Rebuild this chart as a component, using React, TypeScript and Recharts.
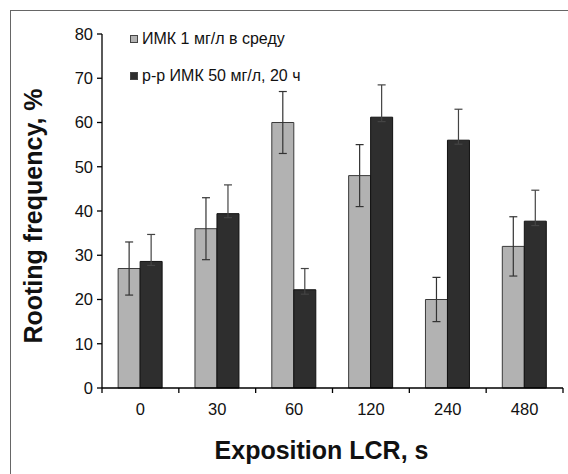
import React from 'react';
import {
  BarChart, Bar, XAxis, YAxis, ErrorBar, Legend,
} from 'recharts';

const categories = ['0', '30', '60', '120', '240', '480'];
const seriesNames = ['ИМК 1 мг/л в среду', 'р-р ИМК 50 мг/л, 20 ч'];
const grayValues = [27, 36, 60, 48, 20, 32];
const grayErrors = [6, 7, 7, 7, 5, 6.7];
const darkValues = [28.6, 39.4, 22.2, 61.2, 56, 37.7];
const darkErrLow = [0.9, 0.9, 1, 1, 0.9, 1];
const darkErrHigh = [6.1, 6.5, 4.8, 7.3, 7, 7];
const yTicks = [0, 10, 20, 30, 40, 50, 60, 70, 80];

const data = categories.map((c, i) => ({
  name: c,
  gray: grayValues[i],
  grayErr: grayErrors[i],
  dark: darkValues[i],
  darkErr: [darkErrLow[i], darkErrHigh[i]],
}));

const FONT = 'Arial, "Liberation Sans", sans-serif';

// Excel-style x tick: label at the centre, tick marks at category edges
const EdgeTick = (props: any) => {
  const { x, y, payload, index, visibleTicksCount } = props;
  const half = payload.offset || 0;
  const last = index === visibleTicksCount - 1;
  return (
    <g>
      <line x1={x - half} x2={x - half} y1={y} y2={y + 5} stroke="#000" strokeWidth={1.3} />
      {last && <line x1={x + half} x2={x + half} y1={y} y2={y + 5} stroke="#000" strokeWidth={1.3} />}
      <text x={x} y={y + 27} textAnchor="middle" fontSize={16.5} fill="#111" fontFamily={FONT}>
        {payload.value}
      </text>
    </g>
  );
};

const LegendBox = (props: any) => {
  const items = props.payload || [];
  return (
    <div style={{ fontFamily: FONT, fontSize: 16, color: '#111' }}>
      {items.map((it: any, i: number) => (
        <div key={i} style={{ display: 'flex', alignItems: 'center', height: 18, marginBottom: 19 }}>
          <span
            style={{
              display: 'inline-block', width: 6, height: 6, marginRight: 4,
              background: it.payload.fill, border: '1px solid #444',
            }}
          />
          <span>{it.value}</span>
        </div>
      ))}
    </div>
  );
};

export default function App() {
  return (
    <div style={{ position: 'absolute', left: 0, top: 0, width: 568, height: 474, background: '#fff', overflow: 'hidden' }}>
      <div
        style={{
          position: 'absolute', left: 10, top: 10, width: 600, height: 500,
          borderTop: '1px solid #666', borderLeft: '1px solid #666',
        }}
      />
      <div style={{ position: 'absolute', left: 0, top: 0 }}>
        <BarChart
          width={568}
          height={474}
          data={data}
          margin={{ top: 34, right: 5, left: 0, bottom: 0 }}
          barCategoryGap="21%"
          barGap={0}
        >
          <XAxis
            dataKey="name"
            height={86}
            axisLine={{ stroke: '#000', strokeWidth: 1.3 }}
            tickLine={false}
            tickSize={0}
            tickMargin={0}
            interval={0}
            tick={<EdgeTick />}
            label={{
              value: 'Exposition LCR, s', position: 'insideBottom', offset: 15, dx: -11,
              style: { fontSize: 25, fontWeight: 'bold', fill: '#111', fontFamily: FONT },
            }}
          />
          <YAxis
            width={102}
            domain={[0, 80]}
            ticks={yTicks}
            interval={0}
            axisLine={{ stroke: '#000', strokeWidth: 1.3 }}
            tickLine={{ stroke: '#000', strokeWidth: 1.3 }}
            tickSize={5}
            tickMargin={4}
            tick={{ fontSize: 16.5, fill: '#111', fontFamily: FONT }}
            label={{
              value: 'Rooting frequency, %', angle: -90, position: 'insideLeft', offset: 33, dy: 5,
              style: { textAnchor: 'middle', fontSize: 25, fontWeight: 'bold', fill: '#111', fontFamily: FONT },
            }}
          />
          <Legend
            layout="vertical"
            align="center"
            verticalAlign="middle"
            wrapperStyle={{ left: 130, top: 30, width: 280, height: 80 }}
            content={<LegendBox />}
          />
          <Bar dataKey="gray" name={seriesNames[0]} fill="#b2b2b2" stroke="#3a3a3a" strokeWidth={1} isAnimationActive={false}>
            <ErrorBar dataKey="grayErr" direction="y" width={4} stroke="#333" strokeWidth={1.2} />
          </Bar>
          <Bar dataKey="dark" name={seriesNames[1]} fill="#2e2e2e" stroke="#111" strokeWidth={1} isAnimationActive={false}>
            <ErrorBar dataKey="darkErr" direction="y" width={4} stroke="#444" strokeWidth={1.2} />
          </Bar>
        </BarChart>
      </div>
    </div>
  );
}
